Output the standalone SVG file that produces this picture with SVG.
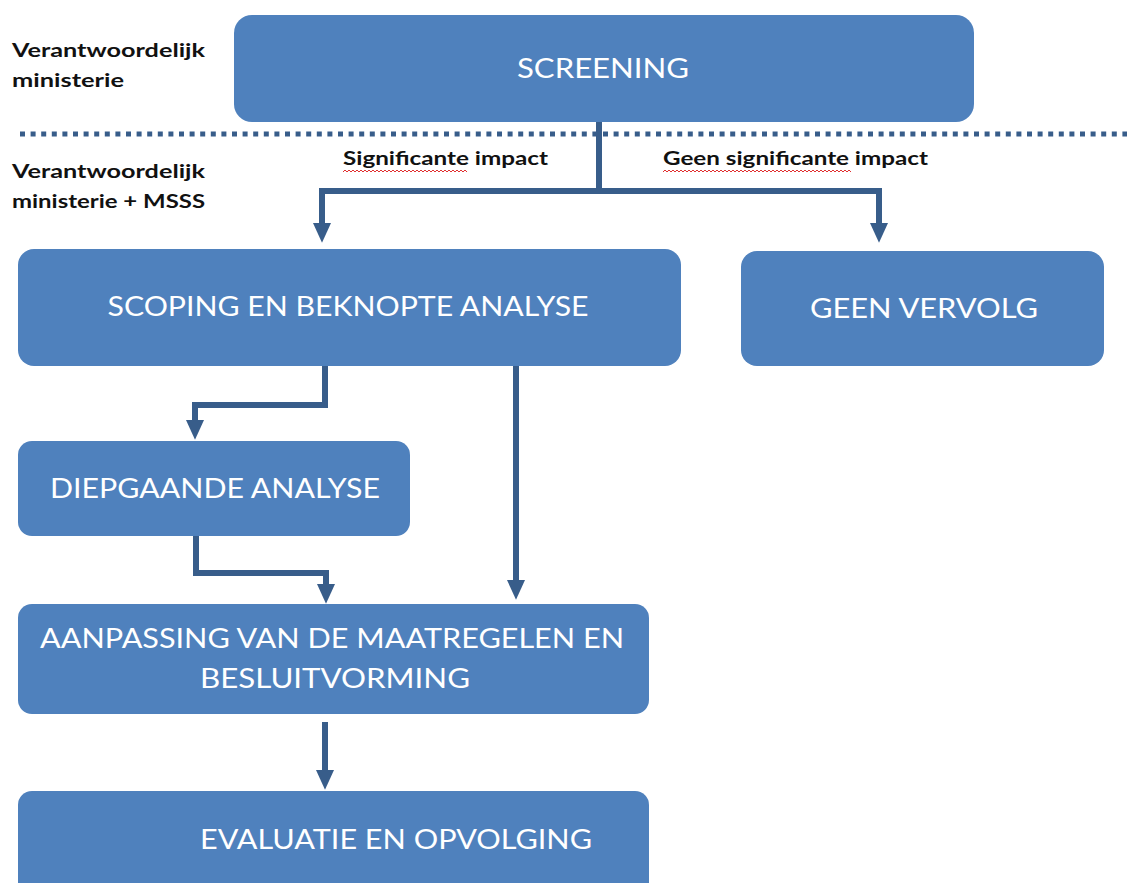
<svg xmlns="http://www.w3.org/2000/svg" width="1127" height="883" viewBox="0 0 1127 883">
<style>
.box{fill:#4F81BD}
.bt{font-family:Lato,"Liberation Sans",sans-serif;font-size:27px;fill:#ffffff;text-anchor:middle}
.lab{font-family:Lato,"Liberation Sans",sans-serif;font-size:18px;font-weight:bold;fill:#111111}
.con{fill:none;stroke:#385D8A;stroke-width:6}
.sq{fill:none;stroke:#e03030;stroke-width:1}
</style>
<defs>
<marker id="ah" markerWidth="3.3" markerHeight="3" refX="0" refY="1.5" orient="auto" markerUnits="strokeWidth" viewBox="0 0 3.3 3">
<path d="M0,0 L3.3,1.5 L0,3 Z" fill="#385D8A"/>
</marker>
</defs>
<rect width="1127" height="883" fill="#ffffff"/>
<line x1="20" y1="134" x2="1127" y2="134" stroke="#385D8A" stroke-width="5" stroke-dasharray="5 5.6"/>
<text class="lab" x="12" y="57" textLength="193" lengthAdjust="spacingAndGlyphs">Verantwoordelijk</text>
<text class="lab" x="12" y="87" textLength="112" lengthAdjust="spacingAndGlyphs">ministerie</text>
<text class="lab" x="12" y="178" textLength="193" lengthAdjust="spacingAndGlyphs">Verantwoordelijk</text>
<text class="lab" x="12" y="208" textLength="193" lengthAdjust="spacingAndGlyphs">ministerie + MSSS</text>
<g id="connectors">
<path class="con" d="M599,122 V191 M322,191 H879" />
<path class="con" d="M322,188 V223" marker-end="url(#ah)"/>
<path class="con" d="M879,188 V223" marker-end="url(#ah)"/>
<path class="con" d="M325,366 V405 H195 V420" marker-end="url(#ah)"/>
<path class="con" d="M516,366 V580" marker-end="url(#ah)"/>
<path class="con" d="M196,536 V573 H326 V584" marker-end="url(#ah)"/>
<path class="con" d="M325,722 V770" marker-end="url(#ah)"/>
<text class="lab" x="343" y="165" font-size="17" textLength="205" lengthAdjust="spacingAndGlyphs">Significante  impact</text>
<text class="lab" x="663" y="165" font-size="17" textLength="265" lengthAdjust="spacingAndGlyphs">Geen significante  impact</text>
<path class="sq" d="M343,172 l2,-2 l2,2 l2,-2 l2,2 l2,-2 l2,2 l2,-2 l2,2 l2,-2 l2,2 l2,-2 l2,2 l2,-2 l2,2 l2,-2 l2,2 l2,-2 l2,2 l2,-2 l2,2 l2,-2 l2,2 l2,-2 l2,2 l2,-2 l2,2 l2,-2 l2,2 l2,-2 l2,2 l2,-2 l2,2 l2,-2 l2,2 l2,-2 l2,2 l2,-2 l2,2 l2,-2 l2,2 l2,-2 l2,2 l2,-2 l2,2 l2,-2 l2,2 l2,-2 l2,2 l2,-2 l2,2 l2,-2 l2,2 l2,-2 l2,2 l2,-2 l2,2 l2,-2 l2,2 l2,-2 l2,2 l2,-2 l2,2"/>
<path class="sq" d="M663,172 l2,-2 l2,2 l2,-2 l2,2 l2,-2 l2,2 l2,-2 l2,2 l2,-2 l2,2 l2,-2 l2,2 l2,-2 l2,2 l2,-2 l2,2 l2,-2 l2,2 l2,-2 l2,2 l2,-2 l2,2 l2,-2 l2,2 l2,-2 l2,2 l2,-2 l2,2 l2,-2 l2,2 l2,-2 l2,2 l2,-2 l2,2 l2,-2 l2,2 l2,-2 l2,2 l2,-2 l2,2 l2,-2 l2,2 l2,-2 l2,2 l2,-2 l2,2 l2,-2 l2,2 l2,-2 l2,2 l2,-2 l2,2 l2,-2 l2,2 l2,-2 l2,2 l2,-2 l2,2 l2,-2 l2,2 l2,-2 l2,2 l2,-2 l2,2 l2,-2 l2,2 l2,-2 l2,2 l2,-2 l2,2 l2,-2 l2,2 l2,-2 l2,2 l2,-2 l2,2 l2,-2 l2,2 l2,-2 l2,2 l2,-2 l2,2 l2,-2 l2,2 l2,-2 l2,2 l2,-2 l2,2 l2,-2 l2,2 l2,-2 l2,2 l2,-2 l2,2"/>
</g>
<g id="screening">
<rect class="box" x="234" y="15" width="740" height="107" rx="18"/>
<text class="bt" x="603" y="78" textLength="172" lengthAdjust="spacingAndGlyphs">SCREENING</text>
</g>
<g id="scoping">
<rect class="box" x="18" y="249" width="663" height="117" rx="16"/>
<text class="bt" x="348" y="316" textLength="481" lengthAdjust="spacingAndGlyphs">SCOPING EN BEKNOPTE ANALYSE</text>
</g>
<g id="geen-vervolg">
<rect class="box" x="741" y="251" width="363" height="115" rx="16"/>
<text class="bt" x="924" y="318" textLength="228" lengthAdjust="spacingAndGlyphs">GEEN VERVOLG</text>
</g>
<g id="diepgaande">
<rect class="box" x="18" y="441" width="392" height="95" rx="14"/>
<text class="bt" x="215" y="498" textLength="330" lengthAdjust="spacingAndGlyphs">DIEPGAANDE ANALYSE</text>
</g>
<g id="aanpassing">
<rect class="box" x="18" y="604" width="631" height="110" rx="14"/>
<text class="bt" x="332" y="648" textLength="584" lengthAdjust="spacingAndGlyphs">AANPASSING VAN DE MAATREGELEN EN</text>
<text class="bt" x="335" y="688" textLength="270" lengthAdjust="spacingAndGlyphs">BESLUITVORMING</text>
</g>
<g id="evaluatie">
<rect class="box" x="18" y="791" width="631" height="120" rx="14"/>
<text class="bt" x="396" y="849" textLength="392" lengthAdjust="spacingAndGlyphs">EVALUATIE EN OPVOLGING</text>
</g>
</svg>
